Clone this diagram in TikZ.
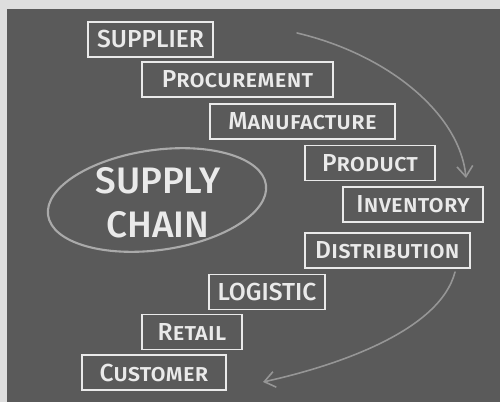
\documentclass[tikz,border=0pt]{standalone}
\usepackage{fontspec}
\setmainfont{Fira Sans}[UprightFont={* Medium}, BoldFont={* Bold}]
\usetikzlibrary{arrows.meta}
\definecolor{frame}{RGB}{222,222,222}
\definecolor{board}{RGB}{90,90,90}
\definecolor{chalk}{RGB}{234,234,234}
\definecolor{softchalk}{RGB}{170,170,170}
\definecolor{faintchalk}{RGB}{150,150,150}
\begin{document}
\begin{tikzpicture}[x=0.02cm,y=-0.02cm,
  stage/.style={draw=chalk, line width=1.1pt, text=chalk, inner sep=0pt,
    minimum height=0.7cm, font=\fontsize{14}{16}\selectfont\scshape},
  trail/.style={draw=faintchalk, line width=0.9pt, line cap=round,
    -{Straight Barb[length=6pt,width=9pt]}}]
  % blackboard and its frame
  \useasboundingbox (0,0) rectangle (500,402);
  \fill[frame] (0,0) rectangle (500,402);
  \fill[board] (7,9) rectangle (500,402);

  % central title in a chalk ellipse
  \draw[softchalk, line width=1.2pt, rotate around={8:(157,200)}]
    (157,200) ellipse [x radius=110, y radius=50];
  \node[text=chalk, align=center, font=\fontsize{21}{25}\selectfont] (hub)
    at (158,203) {SUPPLY\\CHAIN};

  % chain stages
  \node[stage, minimum width=2.5cm]  (supplier)     at (150.5,39.5) {SUPPLIER};
  \node[stage, minimum width=3.82cm] (procurement)  at (237.5,79.5) {Procurement};
  \node[stage, minimum width=3.7cm]  (manufacture)  at (302.5,121.5) {Manufacture};
  \node[stage, minimum width=2.6cm]  (product)      at (370,163) {Product};
  \node[stage, minimum width=2.8cm]  (inventory)    at (413,204.5) {Inventory};
  \node[stage, minimum width=3.3cm]  (distribution) at (387.5,250.5) {Distribution};
  \node[stage, minimum width=2.32cm] (logistic)     at (267,292) {LOGISTIC};
  \node[stage, minimum width=2.0cm]  (retail)       at (192,332) {Retail};
  \node[stage, minimum width=2.88cm] (customer)     at (154,372.5) {Customer};

  % flow arrows sweeping round the stages
  \coordinate (topstart) at (297,33);
  \coordinate (topend)   at (466,178);
  \coordinate (lowstart) at (455,272);
  \coordinate (lowend)   at (263,382);
  \draw[trail] (topstart) .. controls (390,55) and (460,115) .. (topend);
  \draw[trail] (lowstart) .. controls (440,330) and (340,365) .. (lowend);
\end{tikzpicture}
\end{document}
